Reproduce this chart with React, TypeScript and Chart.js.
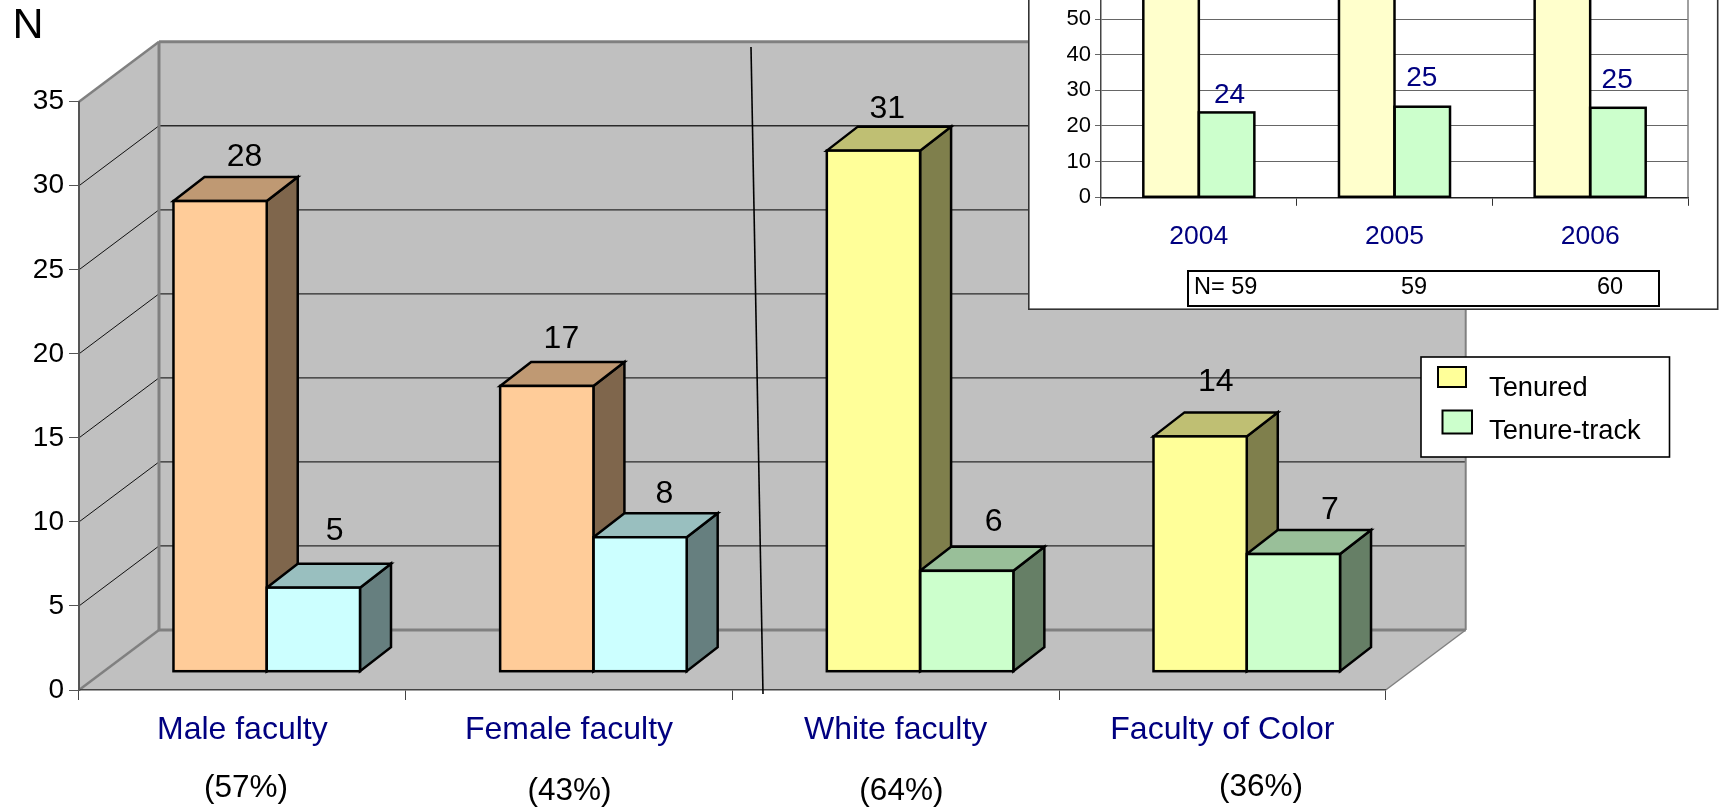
import React, { useEffect, useRef } from "react";
import { Chart, registerables } from "chart.js";

Chart.register(...registerables);

const FONT = "'Liberation Sans', Arial, sans-serif";
const NAVY = "#000080";

// Main chart data
const categories = ["Male faculty", "Female faculty", "White faculty", "Faculty of Color"];
const percentLabels = ["(57%)", "(43%)", "(64%)", "(36%)"];
const tenuredCounts = [28, 17, 31, 14];
const tenureTrackCounts = [5, 8, 6, 7];
const axisTitle = "N";
const mainTicks = [0, 5, 10, 15, 20, 25, 30, 35];

// Inset data (the top of the inset is cut off by the page in the reference)
const years = ["2004", "2005", "2006"];
const tenuredPercent = [76.2, 74.6, 74.9];
const tenureTrackPercent = [23.8, 25.4, 25.1];
const trackLabels = ["24", "25", "25"];
const sampleSizes = ["59", "59", "60"];
const legendLabels = ["Tenured", "Tenure-track"];

// Face colours
const frontA = ["#FFCC99", "#FFCC99", "#FFFF99", "#FFFF99"];
const sideA = ["#7F664C", "#7F664C", "#7F7F4C", "#7F7F4C"];
const topA = ["#BF9973", "#BF9973", "#BFBF73", "#BFBF73"];
const frontB = ["#CCFFFF", "#CCFFFF", "#CCFFCC", "#CCFFCC"];
const sideB = ["#667F7F", "#667F7F", "#667F66", "#667F66"];
const topB = ["#99BFBF", "#99BFBF", "#99BF99", "#99BF99"];

// Hand placed label nudges from the reference (px from bar top)
const labelNudgeA = [[24.5, 44], [14.6, 47], [13.9, 41], [15.7, 54]];
const labelNudgeB = [[21.4, 56], [24.3, 43], [27, 49], [36.5, 44]];
const percentNudge = [[3.6, 788], [0.4, 791.5], [5.7, 791], [38.6, 787.5]];
const insetNudge = [[3, 17], [-0.5, 28], [-0.8, 27.7]];

const WALL = { dx: 80, dy: -60 };
const BARSHIFT = { dx: 24.4, dy: -18.3 };
const BARDEPTH = { dx: 31, dy: -24 };
const INSET_TOP = -190;

function poly(ctx: CanvasRenderingContext2D, pts: number[][], fill?: string, stroke?: string, lw = 1) {
  ctx.beginPath();
  pts.forEach((p, i) => (i ? ctx.lineTo(p[0], p[1]) : ctx.moveTo(p[0], p[1])));
  ctx.closePath();
  if (fill) {
    ctx.fillStyle = fill;
    ctx.fill();
  }
  if (stroke) {
    ctx.strokeStyle = stroke;
    ctx.lineWidth = lw;
    ctx.stroke();
  }
}

function seg(ctx: CanvasRenderingContext2D, x1: number, y1: number, x2: number, y2: number, color: string, lw: number) {
  ctx.beginPath();
  ctx.moveTo(x1, y1);
  ctx.lineTo(x2, y2);
  ctx.strokeStyle = color;
  ctx.lineWidth = lw;
  ctx.stroke();
}

function text(ctx: CanvasRenderingContext2D, s: string, x: number, y: number, size: number, color = "#000", align: CanvasTextAlign = "center") {
  ctx.font = `${size}px ${FONT}`;
  ctx.fillStyle = color;
  ctx.textAlign = align;
  ctx.textBaseline = "middle";
  ctx.fillText(s, x, y);
}

function outlineBars(chart: any, lw: number) {
  const { ctx } = chart;
  [1, 0].forEach((i) => {
    chart.getDatasetMeta(i).data.forEach((el: any) => {
      ctx.strokeStyle = "#000";
      ctx.lineWidth = lw;
      ctx.strokeRect(el.x - el.width / 2, el.y, el.width, el.base - el.y);
    });
  });
}

const wallsPlugin = {
  id: "walls",
  beforeDraw(chart: any) {
    const { ctx, chartArea: a, scales } = chart;
    const y = scales.y;
    const { dx, dy } = WALL;
    const y0 = y.getPixelForValue(0);
    const yMax = y.getPixelForValue(35);
    const WG = "#C0C0C0";
    const EDGE = "#808080";
    ctx.save();
    poly(ctx, [[a.left + dx, yMax + dy], [a.right + dx, yMax + dy], [a.right + dx, y0 + dy], [a.left + dx, y0 + dy]], WG);
    poly(ctx, [[a.left, yMax], [a.left + dx, yMax + dy], [a.left + dx, y0 + dy], [a.left, y0]], WG);
    poly(ctx, [[a.left, y0], [a.right, y0], [a.right + dx, y0 + dy], [a.left + dx, y0 + dy]], WG);
    for (const t of mainTicks) {
      if (t === 0 || t === 35) continue;
      const py = y.getPixelForValue(t);
      seg(ctx, a.left + dx, py + dy, a.right + dx, py + dy, "#2a2a2a", 1.3);
      seg(ctx, a.left, py, a.left + dx, py + dy, "#111", 1);
    }
    seg(ctx, a.left + dx, y0 + dy, a.right + dx, y0 + dy, EDGE, 3);
    seg(ctx, a.left + dx, yMax + dy, a.left + dx, y0 + dy, EDGE, 3);
    seg(ctx, a.left + dx, yMax + dy, a.right + dx, yMax + dy, EDGE, 3);
    seg(ctx, a.right + dx, yMax + dy, a.right + dx, y0 + dy, EDGE, 2);
    seg(ctx, a.left, yMax, a.left + dx, yMax + dy, EDGE, 2.5);
    seg(ctx, a.left, y0, a.left + dx, y0 + dy, EDGE, 2.5);
    seg(ctx, a.right, y0, a.right + dx, y0 + dy, EDGE, 1.5);
    ctx.restore();
  },
};

const barFacesPlugin = {
  id: "barFaces",
  beforeDatasetsDraw(chart: any) {
    const { ctx } = chart;
    ctx.save();
    ctx.lineJoin = "miter";
    categories.forEach((_, j) => {
      [0, 1].forEach((i) => {
        const el = chart.getDatasetMeta(i).data[j];
        const l = el.x - el.width / 2 + BARSHIFT.dx;
        const r = el.x + el.width / 2 + BARSHIFT.dx;
        const t = el.y + BARSHIFT.dy;
        const b = el.base + BARSHIFT.dy;
        const { dx, dy } = BARDEPTH;
        poly(ctx, [[r, t], [r + dx, t + dy], [r + dx, b + dy], [r, b]], i ? sideB[j] : sideA[j], "#000", 2.5);
        poly(ctx, [[l, t], [l + dx, t + dy], [r + dx, t + dy], [r, t]], i ? topB[j] : topA[j], "#000", 2.5);
      });
    });
    ctx.restore();
    ctx.save();
    ctx.translate(BARSHIFT.dx, BARSHIFT.dy);
  },
  afterDatasetsDraw(chart: any) {
    outlineBars(chart, 2.5);
    chart.ctx.restore();
  },
};

const mainOverlayPlugin = {
  id: "mainOverlay",
  afterDraw(chart: any) {
    const { ctx, scales } = chart;
    ctx.save();
    text(ctx, axisTitle, 28, 26.5, 43);
    [tenuredCounts, tenureTrackCounts].forEach((vals, i) => {
      const meta = chart.getDatasetMeta(i);
      const nudges = i ? labelNudgeB : labelNudgeA;
      vals.forEach((v, j) => {
        const el = meta.data[j];
        text(ctx, String(v), el.x + BARSHIFT.dx + nudges[j][0], el.y + BARSHIFT.dy - nudges[j][1], 32);
      });
    });
    percentLabels.forEach((s, j) => {
      text(ctx, s, scales.x.getPixelForValue(j) + percentNudge[j][0], percentNudge[j][1], 31.5);
    });
    // divider
    seg(ctx, 751, 47, 763, 694, "#000", 1.6);
    // legend
    ctx.fillStyle = "#fff";
    ctx.fillRect(1421, 357, 248.5, 100);
    ctx.strokeStyle = "#000";
    ctx.lineWidth = 1.6;
    ctx.strokeRect(1421, 357, 248.5, 100);
    poly(ctx, [[1438, 367], [1466, 367], [1466, 387], [1438, 387]], frontA[2], "#000", 2);
    poly(ctx, [[1442.5, 410.5], [1472, 410.5], [1472, 433.5], [1442.5, 433.5]], frontB[2], "#000", 2);
    text(ctx, legendLabels[0], 1489, 388, 27.3, "#000", "left");
    text(ctx, legendLabels[1], 1489, 431, 27.3, "#000", "left");
    ctx.restore();
  },
};

const insetPlugin = {
  id: "insetFrame",
  beforeDraw(chart: any) {
    const { ctx, width, height } = chart;
    ctx.save();
    ctx.fillStyle = "#fff";
    ctx.fillRect(0, 0, width, height);
    ctx.strokeStyle = "#333";
    ctx.lineWidth = 1.6;
    ctx.strokeRect(0.8, -5, width - 2.1, height + 5 - 0.8);
    ctx.restore();
  },
  afterDatasetsDraw(chart: any) {
    chart.ctx.save();
    outlineBars(chart, 2.5);
    chart.ctx.restore();
  },
  afterDraw(chart: any) {
    const { ctx, chartArea: a } = chart;
    ctx.save();
    seg(ctx, a.right, a.top, a.right, a.bottom, "#808080", 1.5);
    const meta = chart.getDatasetMeta(1);
    trackLabels.forEach((s, j) => {
      const el = meta.data[j];
      text(ctx, s, el.x + insetNudge[j][0], el.y - insetNudge[j][1], 28, NAVY);
    });
    // N= table
    const ox = 1028;
    const oy = INSET_TOP;
    ctx.strokeStyle = "#000";
    ctx.lineWidth = 2;
    ctx.strokeRect(1188 - ox, 271 - oy, 471, 35);
    const cy = 288 - oy;
    text(ctx, `N= ${sampleSizes[0]}`, 1194 - ox, cy, 23.5, "#000", "left");
    text(ctx, sampleSizes[1], 1414 - ox, cy, 23.5);
    text(ctx, sampleSizes[2], 1610 - ox, cy, 23.5);
    ctx.restore();
  },
};

export default function App() {
  const mainRef = useRef<HTMLCanvasElement>(null);
  const insetRef = useRef<HTMLCanvasElement>(null);

  useEffect(() => {
    document.body.style.margin = "0";
    const main = new Chart(mainRef.current!, {
      type: "bar",
      data: {
        labels: categories,
        datasets: [
          { label: "Tenured", data: tenuredCounts, backgroundColor: frontA, borderWidth: 0, clip: false },
          { label: "Tenure-track", data: tenureTrackCounts, backgroundColor: frontB, borderWidth: 0, clip: false },
        ],
      } as any,
      options: {
        animation: false,
        responsive: false,
        layout: { padding: { left: 0, top: 101.7, right: 333.3, bottom: 0 } },
        plugins: { legend: { display: false }, tooltip: { enabled: false }, title: { display: false } },
        datasets: { bar: { barPercentage: 1, categoryPercentage: 0.571 } },
        scales: {
          x: {
            afterFit: (s: any) => { s.height = 119; },
            grid: { drawOnChartArea: false, tickLength: 10, color: "#444", tickWidth: 1 },
            border: { color: "#444", width: 1.5 },
            ticks: { color: NAVY, font: { family: FONT, size: 32 }, padding: 11, maxRotation: 0, autoSkip: false },
          },
          y: {
            min: 0,
            max: 35,
            afterFit: (s: any) => { s.width = 79; },
            afterBuildTicks: (s: any) => { s.ticks = mainTicks.map((value) => ({ value })); },
            grid: { drawOnChartArea: false, tickLength: 10, color: "#555", tickWidth: 1 },
            border: { color: "#555", width: 2 },
            ticks: { color: "#000", font: { family: FONT, size: 28 }, padding: 5 },
          },
        },
      } as any,
      plugins: [wallsPlugin, barFacesPlugin, mainOverlayPlugin],
    });

    const inset = new Chart(insetRef.current!, {
      type: "bar",
      data: {
        labels: years,
        datasets: [
          { label: "Tenured", data: tenuredPercent, backgroundColor: "#FFFFCC", borderWidth: 0 },
          { label: "Tenure-track", data: tenureTrackPercent, backgroundColor: "#CCFFCC", borderWidth: 0 },
        ],
      } as any,
      options: {
        animation: false,
        responsive: false,
        layout: { padding: { left: 0, top: 30.7, right: 31, bottom: 0 } },
        plugins: { legend: { display: false }, tooltip: { enabled: false }, title: { display: false } },
        datasets: { bar: { barPercentage: 1, categoryPercentage: 0.5675 } },
        scales: {
          x: {
            afterFit: (s: any) => { s.height = 112.7; },
            grid: { drawOnChartArea: false, tickLength: 8.5, color: "#333", tickWidth: 1 },
            border: { color: "#222", width: 1.5 },
            ticks: { color: NAVY, font: { family: FONT, size: 26.5 }, padding: 15, maxRotation: 0, autoSkip: false },
          },
          y: {
            min: 0,
            max: 100,
            afterFit: (s: any) => { s.width = 73; },
            grid: { drawOnChartArea: true, tickLength: 6, color: "#666", lineWidth: 1 },
            border: { color: "#444", width: 1.5 },
            ticks: { color: "#000", font: { family: FONT, size: 22 }, padding: 4, stepSize: 10 },
          },
        },
      } as any,
      plugins: [insetPlugin],
    });
    return () => {
      main.destroy();
      inset.destroy();
    };
  }, []);

  return (
    <div style={{ position: "relative", width: 1719, height: 809, overflow: "hidden", background: "#fff" }}>
      <canvas ref={mainRef} width={1719} height={809} style={{ display: "block", width: 1719, height: 809 }} />
      <canvas ref={insetRef} width={691} height={500} style={{ position: "absolute", left: 1028, top: INSET_TOP, width: 691, height: 500 }} />
    </div>
  );
}
